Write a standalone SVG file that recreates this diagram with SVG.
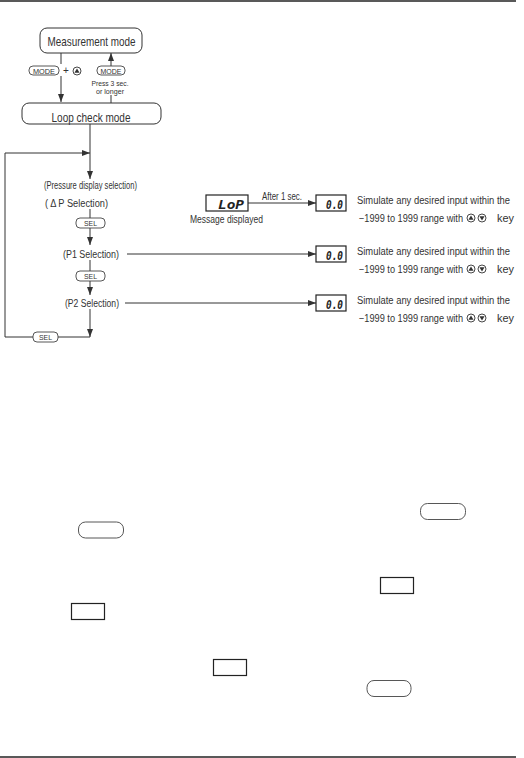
<svg xmlns="http://www.w3.org/2000/svg" width="524" height="758" viewBox="0 0 524 758">
<defs>
<style>
.t{font-family:"Liberation Sans",Arial,sans-serif;fill:#333;}
.ln{stroke:#333;stroke-width:1;fill:none;}
.box{fill:#fff;stroke:#333;stroke-width:1;}
.btn{fill:#fff;stroke:#444;stroke-width:0.9;}
.disp{fill:#fff;stroke:#222;stroke-width:1.2;}
.seg{font-family:"DejaVu Sans Mono","Liberation Mono",monospace;font-style:italic;font-weight:bold;fill:#222;}
.rule{stroke:#222;stroke-width:1.5;}
</style>
<marker id="ah" viewBox="0 0 8 6" refX="8" refY="3" markerWidth="8" markerHeight="6" markerUnits="userSpaceOnUse" orient="auto">
<path d="M0,0 L8,3 L0,6 z" fill="#333"/>
</marker>
<g id="icon-up"><circle r="4" fill="#fff" stroke="#333" stroke-width="0.9"/><path d="M0,-2.6 L2.6,1.8 L-2.6,1.8 z" fill="#333"/></g>
<g id="icon-down"><circle r="4" fill="#fff" stroke="#333" stroke-width="0.9"/><path d="M0,2.6 L2.6,-1.8 L-2.6,-1.8 z" fill="#333"/></g>
</defs>
<rect width="524" height="758" fill="#fff"/>
<line class="rule" x1="0" y1="1" x2="516" y2="1"/>
<line class="rule" x1="0" y1="757" x2="516" y2="757"/>

<g id="connectors">
<line class="ln" x1="61" y1="53" x2="61" y2="64"/>
<line class="ln" x1="61" y1="76" x2="61" y2="102" marker-end="url(#ah)"/>
<line class="ln" x1="111" y1="103" x2="111" y2="95"/>
<line class="ln" x1="111" y1="66" x2="111" y2="53" marker-end="url(#ah)"/>
<line class="ln" x1="90" y1="124" x2="90" y2="179" marker-end="url(#ah)"/>
<line class="ln" x1="90" y1="209" x2="90" y2="218"/>
<line class="ln" x1="90" y1="228" x2="90" y2="245" marker-end="url(#ah)"/>
<line class="ln" x1="90" y1="260" x2="90" y2="271"/>
<line class="ln" x1="90" y1="281" x2="90" y2="295" marker-end="url(#ah)"/>
<line class="ln" x1="90" y1="309" x2="90" y2="337" marker-end="url(#ah)"/>
<path class="ln" d="M90,337 H58 M33,337 H5 V153 H90" marker-end="url(#ah)"/>
<line class="ln" x1="248" y1="203" x2="316" y2="203" marker-end="url(#ah)"/>
<line class="ln" x1="127" y1="254" x2="316" y2="254" marker-end="url(#ah)"/>
<line class="ln" x1="125" y1="303" x2="316" y2="303" marker-end="url(#ah)"/>
</g>

<g id="measurement-mode">
<rect class="box" x="40" y="28" width="102" height="25" rx="7"/>
<text class="t" x="91.5" y="45.5" font-size="13" text-anchor="middle" textLength="88" lengthAdjust="spacingAndGlyphs">Measurement mode</text>
</g>

<g id="mode-plus-up">
<rect class="btn" x="29" y="66" width="30" height="9" rx="4"/>
<text class="t" x="44" y="73.5" font-size="8" text-anchor="middle" textLength="22" lengthAdjust="spacingAndGlyphs">MODE</text>
<text class="t" x="66" y="74" font-size="10" text-anchor="middle">+</text>
<use href="#icon-up" x="77" y="71"/>
</g>

<g id="mode-press">
<rect class="btn" x="97" y="66" width="28" height="9" rx="4"/>
<text class="t" x="111" y="73.5" font-size="8" text-anchor="middle" textLength="21" lengthAdjust="spacingAndGlyphs">MODE</text>
<text class="t" x="110" y="86" font-size="7.5" text-anchor="middle" textLength="37" lengthAdjust="spacingAndGlyphs">Press 3 sec.</text>
<text class="t" x="110" y="93.5" font-size="7.5" text-anchor="middle" textLength="28" lengthAdjust="spacingAndGlyphs">or longer</text>
</g>

<g id="loop-check-mode">
<rect class="box" x="22" y="103" width="139" height="21" rx="7"/>
<text class="t" x="91" y="122" font-size="12.5" text-anchor="middle" textLength="79" lengthAdjust="spacingAndGlyphs">Loop check mode</text>
</g>

<g id="pressure-selection">
<text class="t" x="90.5" y="188.5" font-size="10" text-anchor="middle" textLength="93" lengthAdjust="spacingAndGlyphs">(Pressure display selection)</text>
<text class="t" x="45" y="206.5" font-size="10" textLength="63" lengthAdjust="spacingAndGlyphs">( Δ P Selection)</text>
</g>

<g id="sel-1">
<rect class="btn" x="76" y="218" width="29" height="10" rx="4"/>
<text class="t" x="90.5" y="226" font-size="8" text-anchor="middle" textLength="13" lengthAdjust="spacingAndGlyphs">SEL</text>
</g>

<g id="p1-selection">
<text class="t" x="63" y="257.5" font-size="10" textLength="56" lengthAdjust="spacingAndGlyphs">(P1 Selection)</text>
</g>

<g id="sel-2">
<rect class="btn" x="76" y="271" width="29" height="10" rx="4"/>
<text class="t" x="90.5" y="279" font-size="8" text-anchor="middle" textLength="13" lengthAdjust="spacingAndGlyphs">SEL</text>
</g>

<g id="p2-selection">
<text class="t" x="65" y="306.5" font-size="10" textLength="54" lengthAdjust="spacingAndGlyphs">(P2 Selection)</text>
</g>

<g id="sel-3">
<rect class="btn" x="33" y="332" width="25" height="10" rx="4"/>
<text class="t" x="45.5" y="340" font-size="8" text-anchor="middle" textLength="13" lengthAdjust="spacingAndGlyphs">SEL</text>
</g>

<g id="lop-display">
<rect class="disp" x="206" y="195" width="42" height="16"/>
<text class="seg" x="244" y="208.5" font-size="13" text-anchor="end" textLength="26" lengthAdjust="spacingAndGlyphs">LoP</text>
<text class="t" x="226.5" y="222.5" font-size="10" text-anchor="middle" textLength="73" lengthAdjust="spacingAndGlyphs">Message displayed</text>
<text class="t" x="262" y="199.5" font-size="10" textLength="40" lengthAdjust="spacingAndGlyphs">After 1 sec.</text>
</g>

<g id="display-dp">
<rect class="disp" x="316" y="195" width="30" height="16"/>
<text class="seg" x="343" y="208.5" font-size="13" text-anchor="end" textLength="17" lengthAdjust="spacingAndGlyphs">0.0</text>
<text class="t" x="357" y="203.5" font-size="10" textLength="153" lengthAdjust="spacingAndGlyphs">Simulate any desired input within the</text>
<text class="t" x="359" y="221.5" font-size="10" textLength="104" lengthAdjust="spacingAndGlyphs">−1999 to 1999 range with</text>
<use href="#icon-up" x="471" y="218"/>
<use href="#icon-down" x="482" y="218"/>
<text class="t" x="497" y="221.5" font-size="10" textLength="17" lengthAdjust="spacingAndGlyphs">key</text>
</g>

<g id="display-p1">
<rect class="disp" x="316" y="246" width="30" height="16"/>
<text class="seg" x="343" y="259.5" font-size="13" text-anchor="end" textLength="17" lengthAdjust="spacingAndGlyphs">0.0</text>
<text class="t" x="357" y="254.5" font-size="10" textLength="153" lengthAdjust="spacingAndGlyphs">Simulate any desired input within the</text>
<text class="t" x="359" y="272.5" font-size="10" textLength="104" lengthAdjust="spacingAndGlyphs">−1999 to 1999 range with</text>
<use href="#icon-up" x="471" y="269"/>
<use href="#icon-down" x="482" y="269"/>
<text class="t" x="497" y="272.5" font-size="10" textLength="17" lengthAdjust="spacingAndGlyphs">key</text>
</g>

<g id="display-p2">
<rect class="disp" x="316" y="295" width="30" height="16"/>
<text class="seg" x="343" y="308.5" font-size="13" text-anchor="end" textLength="17" lengthAdjust="spacingAndGlyphs">0.0</text>
<text class="t" x="357" y="303.5" font-size="10" textLength="153" lengthAdjust="spacingAndGlyphs">Simulate any desired input within the</text>
<text class="t" x="359" y="321.5" font-size="10" textLength="104" lengthAdjust="spacingAndGlyphs">−1999 to 1999 range with</text>
<use href="#icon-up" x="471" y="318"/>
<use href="#icon-down" x="482" y="318"/>
<text class="t" x="497" y="321.5" font-size="10" textLength="17" lengthAdjust="spacingAndGlyphs">key</text>
</g>

<g id="key-a"><rect class="btn" x="420.5" y="503.5" width="45" height="16" rx="7"/></g>
<g id="key-b"><rect class="btn" x="78.5" y="522" width="45" height="16" rx="7"/></g>
<g id="key-c"><rect class="disp" x="380.5" y="577.5" width="33" height="16"/></g>
<g id="key-d"><rect class="disp" x="71.5" y="603.5" width="33" height="16"/></g>
<g id="key-e"><rect class="disp" x="213.5" y="659.5" width="33" height="16"/></g>
<g id="key-f"><rect class="btn" x="367" y="680.5" width="44" height="16" rx="7"/></g>
</svg>
